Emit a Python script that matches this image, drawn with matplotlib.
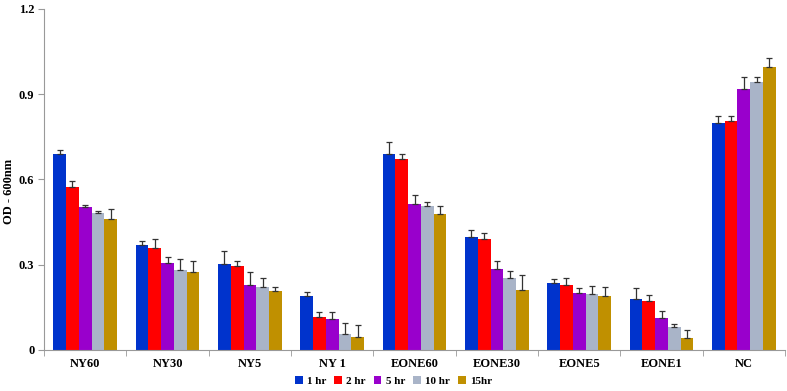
import matplotlib
matplotlib.use("Agg")
import matplotlib.pyplot as plt
import numpy as np

categories = ["NY60", "NY30", "NY5", "NY 1", "EONE60", "EONE30", "EONE5", "EONE1", "NC"]
series_names = ["1 hr", "2 hr", "5 hr", "10 hr", "15hr"]
colors = ["#0033CC", "#FF0000", "#9900CC", "#A9B4C8", "#C09000"]

v_1hr = [0.690, 0.369, 0.303, 0.191, 0.690, 0.399, 0.236, 0.179, 0.800]
v_2hr = [0.575, 0.358, 0.296, 0.116, 0.672, 0.390, 0.228, 0.171, 0.807]
v_5hr = [0.502, 0.305, 0.228, 0.108, 0.513, 0.284, 0.200, 0.113, 0.919]
v_10hr = [0.483, 0.280, 0.221, 0.056, 0.508, 0.252, 0.196, 0.081, 0.944]
v_15hr = [0.461, 0.276, 0.209, 0.046, 0.479, 0.211, 0.190, 0.041, 0.996]

e_1hr = [0.013, 0.013, 0.044, 0.012, 0.041, 0.022, 0.013, 0.039, 0.022]
e_2hr = [0.020, 0.032, 0.016, 0.019, 0.017, 0.023, 0.024, 0.024, 0.015]
e_5hr = [0.008, 0.021, 0.045, 0.027, 0.031, 0.028, 0.019, 0.025, 0.040]
e_10hr = [0.005, 0.039, 0.031, 0.038, 0.014, 0.025, 0.030, 0.012, 0.015]
e_15hr = [0.034, 0.037, 0.012, 0.043, 0.029, 0.054, 0.033, 0.030, 0.030]

values = [v_1hr, v_2hr, v_5hr, v_10hr, v_15hr]
errors = [e_1hr, e_2hr, e_5hr, e_10hr, e_15hr]

plt.rcParams['font.family'] = ['Liberation Serif', 'DejaVu Serif']
plt.rcParams['font.weight'] = 'bold'

fig = plt.figure(figsize=(7.87, 3.91), dpi=100)
ax = fig.add_axes([0.056, 0.105, 0.9415, 0.872])

x = np.arange(len(categories))
n = len(values)
w = 0.155
for i, (vals, errs, c, name) in enumerate(zip(values, errors, colors, series_names)):
    pos = x + (i - (n - 1) / 2) * w
    ax.bar(pos, vals, width=w, color=c, label=name, zorder=2)
    ax.errorbar(pos, vals, yerr=[np.zeros(len(errs)), errs], fmt='none',
                ecolor='#333333', elinewidth=0.9, capsize=2, capthick=0.9, zorder=3)

ax.set_xlim(-0.5, len(categories) - 0.5)
ax.set_ylim(0, 1.2)
ax.set_yticks([0, 0.3, 0.6, 0.9, 1.2])
ax.set_yticklabels(["0", "0.3", "0.6", "0.9", "1.2"], fontsize=9, fontweight='bold')
ax.set_xticks(x)
ax.set_xticklabels(categories, fontsize=9, fontweight='bold')
ax.set_xticks(np.arange(-0.5, len(categories), 1), minor=True)
ax.tick_params(axis='x', which='major', length=0, pad=6)
ax.tick_params(axis='x', which='minor', length=4, color='#999999')
ax.tick_params(axis='y', length=4, color='#999999', pad=3)

for s in ['top', 'right']:
    ax.spines[s].set_visible(False)
for s in ['left', 'bottom']:
    ax.spines[s].set_color('#999999')
    ax.spines[s].set_linewidth(0.8)

fig.text(0.011, 0.51, "OD - 600nm", rotation=90, ha='center', va='center',
         fontsize=9, fontweight='bold')

leg = fig.legend(loc='center', bbox_to_anchor=(0.5, 0.026), ncol=5, frameon=False,
                 fontsize=8, handlelength=0.7, handleheight=0.7, handletextpad=0.4,
                 columnspacing=0.7, borderpad=0.1)
for t in leg.get_texts():
    t.set_fontweight('bold')

fig.savefig("out.png", dpi=100)
